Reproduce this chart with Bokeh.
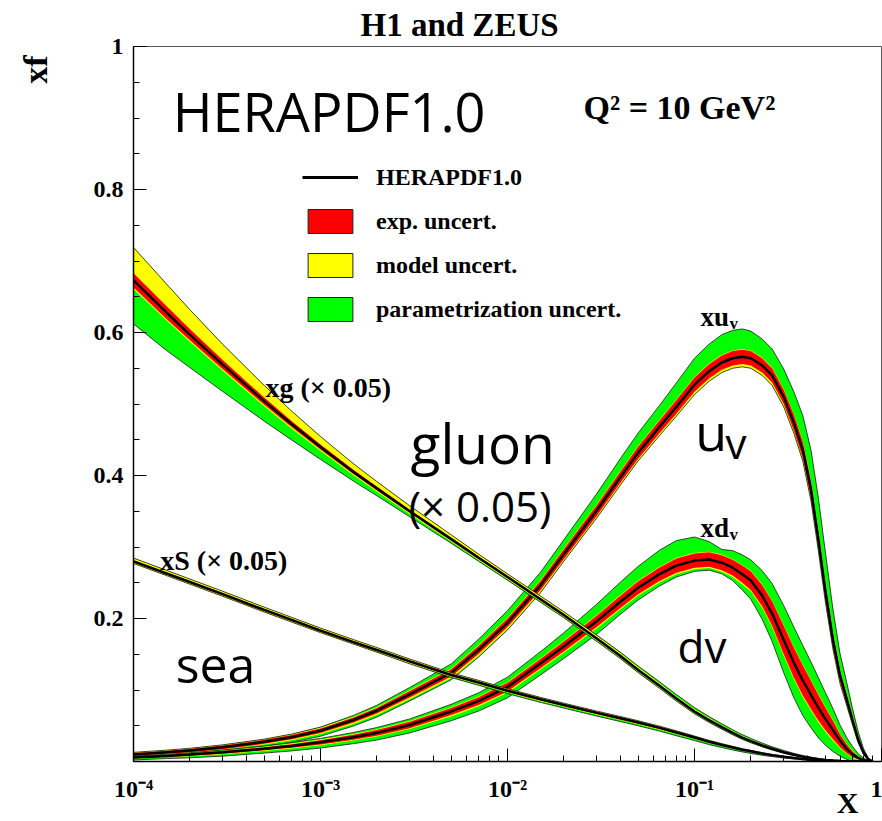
import numpy as np
from bokeh.plotting import figure
from bokeh.models import ColumnDataSource, Range1d, FixedTicker, Label, Legend, LegendItem, Title
from bokeh.embed import file_html
from bokeh.resources import INLINE

# ---------------- data ----------------
x_vals = [1e-4, 1.5e-4, 2e-4, 3e-4, 5e-4, 7e-4, 1e-3,
          1.5e-3, 2e-3, 3e-3, 5e-3, 7e-3, 1e-2, 1.5e-2,
          2e-2, 3e-2, 4e-2, 5e-2, 0.065, 0.08, 0.1,
          0.12, 0.14, 0.16, 0.18, 0.2, 0.23, 0.26,
          0.3, 0.34, 0.38, 0.42, 0.46, 0.5, 0.55,
          0.6, 0.65, 0.7, 0.75, 0.8, 0.85, 0.9]

# ---- xu_v ----
uv_central = [0.0098, 0.0128, 0.0153, 0.0198, 0.0275, 0.034, 0.043,
              0.058, 0.071, 0.094, 0.124, 0.156, 0.194, 0.246,
              0.290, 0.351, 0.397, 0.432, 0.468, 0.496, 0.527,
              0.546, 0.558, 0.564, 0.566, 0.564, 0.554, 0.540,
              0.510, 0.474, 0.435, 0.380, 0.310, 0.240, 0.170,
              0.120, 0.088, 0.058, 0.031, 0.013, 0.003, 0.0]
uv_exp = [0.002, 0.002, 0.0022, 0.0025, 0.0028, 0.003, 0.0032,
          0.0036, 0.004, 0.0045, 0.005, 0.0055, 0.006, 0.0065,
          0.007, 0.0075, 0.008, 0.0085, 0.009, 0.0095, 0.010,
          0.010, 0.010, 0.010, 0.010, 0.010, 0.010, 0.010,
          0.010, 0.011, 0.0115, 0.012, 0.012, 0.0115, 0.010,
          0.008, 0.007, 0.005, 0.004, 0.002, 0.001, 0.0]
uv_mod_up = [0.001, 0.001, 0.001, 0.001, 0.001, 0.001, 0.001,
             0.001, 0.001, 0.001, 0.001, 0.001, 0.001, 0.001,
             0.001, 0.001, 0.001, 0.001, 0.001, 0.001, 0.001,
             0.001, 0.001, 0.001, 0.001, 0.001, 0.001, 0.001,
             0.001, 0.001, 0.001, 0.001, 0.001, 0.001, 0.001,
             0.001, 0.001, 0.001, 0.001, 0.0005, 0.0, 0.0]
uv_mod_dn = [0.001, 0.001, 0.001, 0.001, 0.001, 0.0012, 0.0015,
             0.0018, 0.002, 0.0023, 0.0027, 0.003, 0.003, 0.003,
             0.003, 0.003, 0.003, 0.003, 0.0032, 0.0035, 0.0038,
             0.004, 0.004, 0.004, 0.004, 0.004, 0.004, 0.004,
             0.004, 0.004, 0.004, 0.004, 0.004, 0.004, 0.003,
             0.003, 0.002, 0.002, 0.001, 0.001, 0.0, 0.0]
uv_par_up = [0.0, 0.0, 0.0, 0.0, 0.0, 0.0003, 0.001,
             0.0018, 0.0026, 0.004, 0.0065, 0.0085, 0.010, 0.011,
             0.012, 0.015, 0.017, 0.018, 0.020, 0.023, 0.026,
             0.027, 0.028, 0.028, 0.028, 0.027, 0.026, 0.026,
             0.028, 0.031, 0.036, 0.042, 0.045, 0.042, 0.032,
             0.022, 0.016, 0.010, 0.006, 0.003, 0.001, 0.0]
uv_par_dn = [0.003, 0.003, 0.003, 0.003, 0.003, 0.003, 0.003,
             0.003, 0.003, 0.0025, 0.002, 0.0015, 0.001, 0.0005,
             0.0, 0.0, 0.0, 0.0, 0.0, 0.0, 0.0,
             0.0, 0.0, 0.0, 0.0, 0.0, 0.0, 0.0,
             0.0, 0.0, 0.0, 0.0, 0.0, 0.0, 0.0,
             0.0, 0.0, 0.0, 0.0, 0.0, 0.0, 0.0]

# ---- xd_v ----
dv_central = [0.0056, 0.0078, 0.0097, 0.0128, 0.0178, 0.0218, 0.0268,
              0.034, 0.040, 0.051, 0.070, 0.0845, 0.104, 0.137,
              0.161, 0.196, 0.223, 0.243, 0.262, 0.274, 0.281,
              0.2825, 0.278, 0.271, 0.262, 0.253, 0.232, 0.207,
              0.170, 0.138, 0.113, 0.093, 0.075, 0.060, 0.044,
              0.029, 0.018, 0.010, 0.005, 0.002, 0.0005, 0.0]
dv_exp = [0.001, 0.0012, 0.0015, 0.0018, 0.002, 0.0025, 0.003,
          0.0035, 0.004, 0.0045, 0.005, 0.0055, 0.006, 0.0065,
          0.007, 0.008, 0.0085, 0.009, 0.0095, 0.010, 0.010,
          0.010, 0.0105, 0.011, 0.012, 0.013, 0.015, 0.017,
          0.020, 0.021, 0.021, 0.020, 0.018, 0.016, 0.013,
          0.009, 0.006, 0.004, 0.002, 0.001, 0.0, 0.0]
dv_mod_up = [0.0005, 0.0005, 0.0005, 0.0005, 0.001, 0.001, 0.001,
             0.001, 0.001, 0.001, 0.001, 0.001, 0.001, 0.001,
             0.001, 0.001, 0.001, 0.001, 0.001, 0.001, 0.001,
             0.001, 0.001, 0.001, 0.001, 0.001, 0.001, 0.001,
             0.001, 0.001, 0.001, 0.001, 0.001, 0.001, 0.001,
             0.001, 0.001, 0.001, 0.0, 0.0, 0.0, 0.0]
dv_mod_dn = [0.0005, 0.0005, 0.001, 0.001, 0.001, 0.001, 0.001,
             0.001, 0.001, 0.001, 0.002, 0.002, 0.002, 0.002,
             0.002, 0.002, 0.002, 0.002, 0.002, 0.002, 0.002,
             0.002, 0.002, 0.002, 0.002, 0.002, 0.002, 0.002,
             0.002, 0.002, 0.002, 0.002, 0.002, 0.002, 0.002,
             0.0015, 0.001, 0.001, 0.0005, 0.0, 0.0, 0.0]
dv_par_up = [0.0005, 0.0005, 0.0005, 0.001, 0.001, 0.0012, 0.0015,
             0.002, 0.0025, 0.003, 0.004, 0.005, 0.007, 0.009,
             0.011, 0.015, 0.018, 0.020, 0.023, 0.024, 0.022,
             0.014, 0.007, 0.012, 0.014, 0.015, 0.019, 0.024,
             0.027, 0.028, 0.027, 0.025, 0.023, 0.020, 0.016,
             0.012, 0.009, 0.006, 0.004, 0.002, 0.0005, 0.0]
dv_par_dn = [0.002, 0.002, 0.002, 0.0025, 0.003, 0.0035, 0.004,
             0.0045, 0.005, 0.0055, 0.006, 0.0065, 0.007, 0.0075,
             0.008, 0.008, 0.007, 0.006, 0.005, 0.004, 0.003,
             0.003, 0.003, 0.005, 0.008, 0.011, 0.016, 0.020,
             0.024, 0.026, 0.026, 0.024, 0.022, 0.019, 0.015,
             0.011, 0.008, 0.005, 0.003, 0.001, 0.0, 0.0]

# ---- xg (x 0.05) ----
g_central = [0.673, 0.628, 0.597, 0.555, 0.504, 0.472, 0.440,
             0.405, 0.382, 0.350, 0.311, 0.285, 0.258, 0.227,
             0.205, 0.172, 0.148, 0.128, 0.106, 0.088, 0.070,
             0.0575, 0.048, 0.040, 0.0335, 0.0285, 0.0225, 0.0178,
             0.013, 0.0095, 0.0068, 0.0048, 0.0033, 0.0022, 0.0013,
             0.0007, 0.0004, 0.0002, 0.0001, 0.0, 0.0, 0.0]
g_exp = [0.010, 0.009, 0.008, 0.0065, 0.005, 0.0042, 0.0035,
         0.003, 0.0026, 0.0022, 0.0018, 0.0016, 0.0015, 0.0015,
         0.0015, 0.0015, 0.0015, 0.0015, 0.0015, 0.0014, 0.0013,
         0.0012, 0.0011, 0.001, 0.001, 0.0009, 0.0008, 0.0007,
         0.0006, 0.0005, 0.0004, 0.0003, 0.0003, 0.0002, 0.0002,
         0.0001, 0.0001, 0.0, 0.0, 0.0, 0.0, 0.0]
g_mod_up = [0.036, 0.031, 0.027, 0.022, 0.017, 0.014, 0.011,
            0.0085, 0.007, 0.0055, 0.0042, 0.0035, 0.003, 0.0027,
            0.0025, 0.0024, 0.0023, 0.0022, 0.002, 0.002, 0.0019,
            0.0018, 0.0017, 0.0016, 0.0015, 0.0014, 0.0012, 0.001,
            0.0009, 0.0007, 0.0006, 0.0005, 0.0004, 0.0003, 0.0002,
            0.0001, 0.0001, 0.0, 0.0, 0.0, 0.0, 0.0]
g_mod_dn = [0.002, 0.002, 0.002, 0.002, 0.002, 0.002, 0.002,
            0.0018, 0.0017, 0.0016, 0.0015, 0.0015, 0.0015, 0.0015,
            0.0015, 0.0015, 0.0014, 0.0013, 0.0012, 0.0011, 0.001,
            0.001, 0.0009, 0.0008, 0.0008, 0.0007, 0.0006, 0.0005,
            0.0004, 0.0003, 0.0003, 0.0002, 0.0002, 0.0001, 0.0001,
            0.0, 0.0, 0.0, 0.0, 0.0, 0.0, 0.0]
g_par_up = [0.0, 0.0, 0.0, 0.0, 0.0, 0.0, 0.0,
            0.0, 0.0, 0.0, 0.0, 0.0, 0.0, 0.0003,
            0.0006, 0.001, 0.0014, 0.0018, 0.002, 0.0022, 0.0022,
            0.0021, 0.002, 0.0018, 0.0016, 0.0015, 0.0013, 0.0011,
            0.0009, 0.0007, 0.0005, 0.0004, 0.0003, 0.0002, 0.0001,
            0.0, 0.0, 0.0, 0.0, 0.0, 0.0, 0.0]
g_par_dn = [0.049, 0.042, 0.036, 0.029, 0.021, 0.016, 0.012,
            0.008, 0.006, 0.004, 0.0025, 0.0018, 0.0014, 0.0012,
            0.001, 0.001, 0.001, 0.001, 0.001, 0.001, 0.001,
            0.0009, 0.0008, 0.0008, 0.0007, 0.0007, 0.0006, 0.0005,
            0.0004, 0.0003, 0.0003, 0.0002, 0.0002, 0.0001, 0.0001,
            0.0, 0.0, 0.0, 0.0, 0.0, 0.0, 0.0]

# ---- xS (x 0.05) ----
s_central = [0.280, 0.263, 0.251, 0.234, 0.212, 0.198, 0.183,
             0.167, 0.156, 0.140, 0.121, 0.1105, 0.099, 0.087,
             0.079, 0.068, 0.0605, 0.0545, 0.047, 0.0405, 0.0335,
             0.0275, 0.0232, 0.0195, 0.0165, 0.0142, 0.0112, 0.0089,
             0.0066, 0.0049, 0.0036, 0.0026, 0.0019, 0.0014, 0.0009,
             0.0006, 0.0004, 0.0002, 0.0001, 0.0, 0.0, 0.0]
s_exp = [0.0015, 0.0015, 0.0015, 0.0015, 0.0015, 0.0015, 0.0015,
         0.0015, 0.0015, 0.0015, 0.0015, 0.0015, 0.0015, 0.0015,
         0.0015, 0.0015, 0.0015, 0.0015, 0.0015, 0.0015, 0.0013,
         0.0012, 0.0011, 0.001, 0.0009, 0.0008, 0.0007, 0.0006,
         0.0005, 0.0004, 0.0003, 0.0003, 0.0002, 0.0002, 0.0001,
         0.0001, 0.0, 0.0, 0.0, 0.0, 0.0, 0.0]
s_mod_up = [0.003, 0.0029, 0.0028, 0.0026, 0.0024, 0.0022, 0.0021,
            0.002, 0.0019, 0.0018, 0.0016, 0.0015, 0.0014, 0.0012,
            0.0011, 0.001, 0.001, 0.001, 0.0009, 0.0009, 0.0008,
            0.0008, 0.0007, 0.0007, 0.0006, 0.0006, 0.0005, 0.0004,
            0.0004, 0.0003, 0.0003, 0.0002, 0.0002, 0.0001, 0.0001,
            0.0001, 0.0, 0.0, 0.0, 0.0, 0.0, 0.0]
s_mod_dn = [0.0015, 0.0015, 0.0015, 0.0015, 0.0015, 0.0015, 0.0013,
            0.0013, 0.0013, 0.0013, 0.0011, 0.0011, 0.0011, 0.0011,
            0.001, 0.001, 0.001, 0.001, 0.001, 0.001, 0.0009,
            0.0008, 0.0008, 0.0007, 0.0006, 0.0006, 0.0005, 0.0004,
            0.0003, 0.0003, 0.0002, 0.0002, 0.0001, 0.0001, 0.0001,
            0.0, 0.0, 0.0, 0.0, 0.0, 0.0, 0.0]
s_par_up = [0.0, 0.0, 0.0, 0.0, 0.0, 0.0, 0.0,
            0.0, 0.0, 0.0, 0.0, 0.0, 0.0, 0.0,
            0.0, 0.0, 0.0, 0.0, 0.0, 0.0, 0.0,
            0.0, 0.0, 0.0, 0.0, 0.0, 0.0, 0.0,
            0.0, 0.0, 0.0, 0.0, 0.0, 0.0, 0.0,
            0.0, 0.0, 0.0, 0.0, 0.0, 0.0, 0.0]
s_par_dn = [0.0, 0.0, 0.0, 0.0, 0.0, 0.0, 0.0,
            0.0, 0.0003, 0.0006, 0.001, 0.0013, 0.0015, 0.0017,
            0.0018, 0.002, 0.002, 0.002, 0.002, 0.002, 0.002,
            0.0019, 0.0018, 0.0017, 0.0016, 0.0015, 0.0013, 0.0011,
            0.0009, 0.0007, 0.0006, 0.0005, 0.0004, 0.0003, 0.0002,
            0.0001, 0.0001, 0.0, 0.0, 0.0, 0.0, 0.0]

x_major_ticks = [1e-4, 1e-3, 1e-2, 1e-1, 1.0]
x_tick_labels = ["10⁻⁴", "10⁻³", "10⁻²", "10⁻¹", "1"]
y_major_ticks = [0.2, 0.4, 0.6, 0.8, 1.0]
y_tick_labels = ["0.2", "0.4", "0.6", "0.8", "1"]

legend_labels = ["HERAPDF1.0", "exp. uncert.", "model uncert.", "parametrization uncert."]

# ---------------- figure ----------------
SERIF = "Liberation Serif"
HAND = "Open Sans"
GREEN, YELLOW, RED = "#00ff00", "#ffff00", "#ff0000"

p = figure(width=882, height=821, x_axis_type="log", output_backend="svg", toolbar_location=None,
           x_range=Range1d(1e-4, 1.0), y_range=Range1d(0.0, 1.0), title="H1 and ZEUS",
           min_border_left=133, min_border_right=1, min_border_top=46, min_border_bottom=60)
p.xgrid.visible = False
p.ygrid.visible = False
p.outline_line_color = "#555555"
p.outline_line_width = 1
p.background_fill_color = "white"
p.border_fill_color = "white"

p.title.align = "left"
p.title.offset = 227
p.title.text_font = SERIF
p.title.text_font_style = "bold"
p.title.text_font_size = "33px"
p.title.text_color = "black"
p.title.standoff = 8

# y-axis caption at the top of the left margin (second, blank line pushes it outward)
yt = Title(text="xf\n\u00a0", align="right", offset=9, text_font=SERIF, text_font_style="bold",
           text_font_size="34px", text_color="black", standoff=0)
p.add_layout(yt, "left")

xt = Title(text="X", align="right", offset=23, vertical_align="top", text_font=SERIF,
           text_font_style="bold", text_font_size="30px", text_color="black")
try:
    xt.standoff = -38
except Exception:
    xt.standoff = 0
p.add_layout(xt, "below")

minor_x = [m * 10.0 ** e for e in range(-4, 0) for m in range(2, 10)]
p.xaxis.ticker = FixedTicker(ticks=x_major_ticks, minor_ticks=minor_x)
p.xaxis.major_label_overrides = dict(zip(x_major_ticks, x_tick_labels))
p.yaxis.ticker = FixedTicker(ticks=y_major_ticks, minor_ticks=[round(0.05 * i, 2) for i in range(1, 20)])
p.yaxis.major_label_overrides = dict(zip(y_major_ticks, y_tick_labels))

for ax in (p.xaxis[0], p.yaxis[0]):
    ax.axis_line_width = 1.5
    ax.axis_line_color = "black"
    ax.major_tick_in = 13
    ax.major_tick_out = 0
    ax.minor_tick_in = 6
    ax.minor_tick_out = 0
    ax.major_tick_line_color = "black"
    ax.minor_tick_line_color = "black"
    ax.major_label_text_font = SERIF
    ax.major_label_text_font_style = "bold"
    ax.major_label_text_font_size = "24px"
    ax.major_label_text_color = "black"
p.xaxis.major_label_standoff = 14
p.yaxis.major_label_standoff = 10


def draw_pdf(central, e, mu, md, pu, pd):
    c = np.array(central)
    red_lo = c - np.array(e)
    red_hi = c + np.array(e)
    yel_lo = red_lo - np.array(md)
    yel_hi = red_hi + np.array(mu)
    grn_lo = np.maximum(yel_lo - np.array(pd), 0.0)
    grn_hi = yel_hi + np.array(pu)
    src = ColumnDataSource(dict(x=x_vals, c=c, rl=np.maximum(red_lo, 0), rh=red_hi,
                                yl=np.maximum(yel_lo, 0), yh=yel_hi, gl=grn_lo, gh=grn_hi))
    p.varea(x="x", y1="gl", y2="gh", source=src, fill_color=GREEN)
    p.varea(x="x", y1="yl", y2="yh", source=src, fill_color=YELLOW)
    p.varea(x="x", y1="rl", y2="rh", source=src, fill_color=RED)
    p.line(x="x", y="gl", source=src, line_color="#1a1a1a", line_width=0.8)
    p.line(x="x", y="gh", source=src, line_color="#1a1a1a", line_width=0.8)
    p.line(x="x", y="c", source=src, line_color="black", line_width=2.5)


draw_pdf(uv_central, uv_exp, uv_mod_up, uv_mod_dn, uv_par_up, uv_par_dn)
draw_pdf(dv_central, dv_exp, dv_mod_up, dv_mod_dn, dv_par_up, dv_par_dn)
draw_pdf(s_central, s_exp, s_mod_up, s_mod_dn, s_par_up, s_par_dn)
draw_pdf(g_central, g_exp, g_mod_up, g_mod_dn, g_par_up, g_par_dn)

# ---------------- legend (sample glyphs hold no visible data) ----------------
nan = [float("nan")]
r_line = p.line(x=nan, y=nan, line_color="black", line_width=3)
r_red = p.quad(left=nan, right=nan, top=nan, bottom=nan, fill_color=RED, line_color="#222222", line_width=1)
r_yel = p.quad(left=nan, right=nan, top=nan, bottom=nan, fill_color=YELLOW, line_color="#222222", line_width=1)
r_grn = p.quad(left=nan, right=nan, top=nan, bottom=nan, fill_color=GREEN, line_color="#222222", line_width=1)
legend = Legend(items=[LegendItem(label=legend_labels[0], renderers=[r_line]),
                       LegendItem(label=legend_labels[1], renderers=[r_red]),
                       LegendItem(label=legend_labels[2], renderers=[r_yel]),
                       LegendItem(label=legend_labels[3], renderers=[r_grn])],
                location=(169, 437), glyph_width=56, glyph_height=30, spacing=14, label_standoff=18,
                padding=0, margin=0, border_line_alpha=0, background_fill_alpha=0,
                label_text_font=SERIF, label_text_font_style="bold", label_text_font_size="24px",
                label_text_color="black")
p.add_layout(legend)


# ---------------- texts inside the frame ----------------
def txt(x, y, text, size, font=SERIF, bold=True):
    p.add_layout(Label(x=x, y=y, text=text, text_font=font,
                       text_font_style="bold" if bold else "normal", text_font_size=size,
                       text_align="left", text_baseline="alphabetic", text_color="black"))


txt(1.62e-4, 0.910, "HERAPDF1.0", "54px", font=HAND, bold=False)
txt(0.0255, 0.915, "Q² = 10 GeV²", "34px")
txt(5.08e-4, 0.523, "xg (× 0.05)", "28px")
txt(1.39e-4, 0.281, "xS (× 0.05)", "28px")
txt(0.1076, 0.622, "xu", "27px")
txt(0.1538, 0.613, "v", "17px")
txt(0.1076, 0.327, "xd", "27px")
txt(0.1538, 0.318, "v", "17px")
txt(3.03e-3, 0.446, "gluon", "55px", font=HAND, bold=False)
txt(2.96e-3, 0.358, "(× 0.05)", "42px", font=HAND, bold=False)
txt(0.101, 0.463, "u", "52px", font=HAND, bold=False)
txt(0.1466, 0.446, "v", "42px", font=HAND, bold=False)
txt(0.0811, 0.162, "dv", "44px", font=HAND, bold=False)
txt(1.68e-4, 0.137, "sea", "50px", font=HAND, bold=False)

open("out.html", "w").write(file_html(p, INLINE))
